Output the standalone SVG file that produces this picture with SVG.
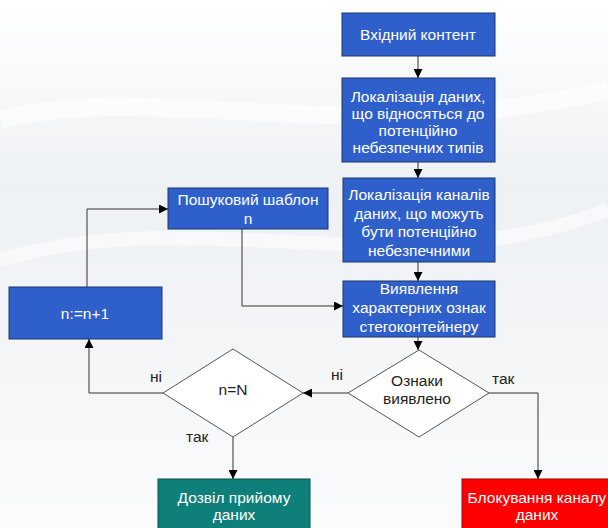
<svg xmlns="http://www.w3.org/2000/svg" width="608" height="528" viewBox="0 0 608 528">
<defs>
<linearGradient id="bg" x1="0" y1="0" x2="0" y2="1">
<stop offset="0" stop-color="#ffffff"/>
<stop offset="0.35" stop-color="#eef1f4"/>
<stop offset="0.7" stop-color="#f4f6f8"/>
<stop offset="1" stop-color="#fbfbfc"/>
</linearGradient>
<marker id="ah" viewBox="0 0 10 10" refX="10" refY="5" markerWidth="9" markerHeight="9" markerUnits="userSpaceOnUse" orient="auto">
<path d="M0,0 L10,5 L0,10 z" fill="#000"/>
</marker>
<style>
.blue{fill:#2f5fcb;stroke:#1c3668;stroke-width:1}
.teal{fill:#0f8079;stroke:#0b4f4b;stroke-width:1}
.red{fill:#ff0000;stroke:#a00000;stroke-width:1}
.dia{fill:#ffffff;stroke:#555;stroke-width:1}
.wt{font-family:"Liberation Sans",Arial,sans-serif;font-size:15.5px;fill:#ffffff;text-anchor:middle}
.bt{font-family:"Liberation Sans",Arial,sans-serif;font-size:15.5px;fill:#222;text-anchor:middle}
.lb{font-family:"Liberation Sans",Arial,sans-serif;font-size:15.5px;fill:#222}
.ln{fill:none;stroke:#333;stroke-width:1}
</style>
</defs>
<rect x="0" y="0" width="608" height="528" fill="url(#bg)"/>
<path d="M0,120 C150,80 350,150 608,90" fill="none" stroke="#ffffff" stroke-width="18" opacity="0.6"/>
<path d="M0,260 C200,200 400,290 608,210" fill="none" stroke="#ffffff" stroke-width="14" opacity="0.5"/>

<g id="connectors">
<line class="ln" x1="418" y1="56" x2="418" y2="78" marker-end="url(#ah)"/>
<line class="ln" x1="418" y1="162" x2="418" y2="178" marker-end="url(#ah)"/>
<line class="ln" x1="418" y1="262" x2="418" y2="281" marker-end="url(#ah)"/>
<line class="ln" x1="418" y1="337" x2="418" y2="350" marker-end="url(#ah)"/>
<polyline class="ln" points="242,229 242,306 343,306" marker-end="url(#ah)"/>
<polyline class="ln" points="87,287 87,209 168,209" marker-end="url(#ah)"/>
<line class="ln" x1="348" y1="393" x2="303" y2="393" marker-end="url(#ah)"/>
<polyline class="ln" points="163,393 89,393 89,339" marker-end="url(#ah)"/>
<line class="ln" x1="233" y1="437" x2="233" y2="479" marker-end="url(#ah)"/>
<polyline class="ln" points="489,393 538,393 538,479" marker-end="url(#ah)"/>
<text class="lb" x="150" y="382">ні</text>
<text class="lb" x="186" y="442">так</text>
<text class="lb" x="331" y="380">ні</text>
<text class="lb" x="492" y="384">так</text>
</g>

<g id="input">
<rect class="blue" x="342" y="13" width="153" height="43"/>
<text class="wt" x="418" y="40">Вхідний контент</text>
</g>
<g id="localize-data">
<rect class="blue" x="342" y="78" width="153" height="84"/>
<text class="wt" x="418" y="102">Локалізація даних,</text>
<text class="wt" x="418" y="119">що відносяться до</text>
<text class="wt" x="418" y="136">потенційно</text>
<text class="wt" x="418" y="153">небезпечних типів</text>
</g>
<g id="localize-channels">
<rect class="blue" x="343" y="178" width="152" height="84"/>
<text class="wt" x="419" y="200">Локалізація каналів</text>
<text class="wt" x="419" y="219">даних, що можуть</text>
<text class="wt" x="419" y="237">бути потенційно</text>
<text class="wt" x="419" y="256">небезпечними</text>
</g>
<g id="detect">
<rect class="blue" x="343" y="281" width="152" height="56"/>
<text class="wt" x="419" y="294">Виявлення</text>
<text class="wt" x="419" y="313">характерних ознак</text>
<text class="wt" x="419" y="332">стегоконтейнеру</text>
</g>
<g id="pattern">
<rect class="blue" x="168" y="188" width="160" height="41"/>
<text class="wt" x="248" y="205">Пошуковий шаблон</text>
<text class="wt" x="248" y="224">n</text>
</g>
<g id="increment">
<rect class="blue" x="9" y="287" width="153" height="52"/>
<text class="wt" x="85" y="319">n:=n+1</text>
</g>
<g id="check-n">
<polygon class="dia" points="233,349 303,393 233,437 163,393"/>
<text class="bt" x="233" y="395">n=N</text>
</g>
<g id="signs-found">
<polygon class="dia" points="419,350 489,393 419,437 348,393"/>
<text class="bt" x="417" y="386">Ознаки</text>
<text class="bt" x="417" y="404">виявлено</text>
</g>
<g id="allow">
<rect class="teal" x="158" y="479" width="152" height="55"/>
<text class="wt" x="234" y="503">Дозвіл прийому</text>
<text class="wt" x="234" y="520">даних</text>
</g>
<g id="block">
<rect class="red" x="462" y="479" width="152" height="55"/>
<text class="wt" x="537" y="503">Блокування каналу</text>
<text class="wt" x="537" y="520">даних</text>
</g>
</svg>
